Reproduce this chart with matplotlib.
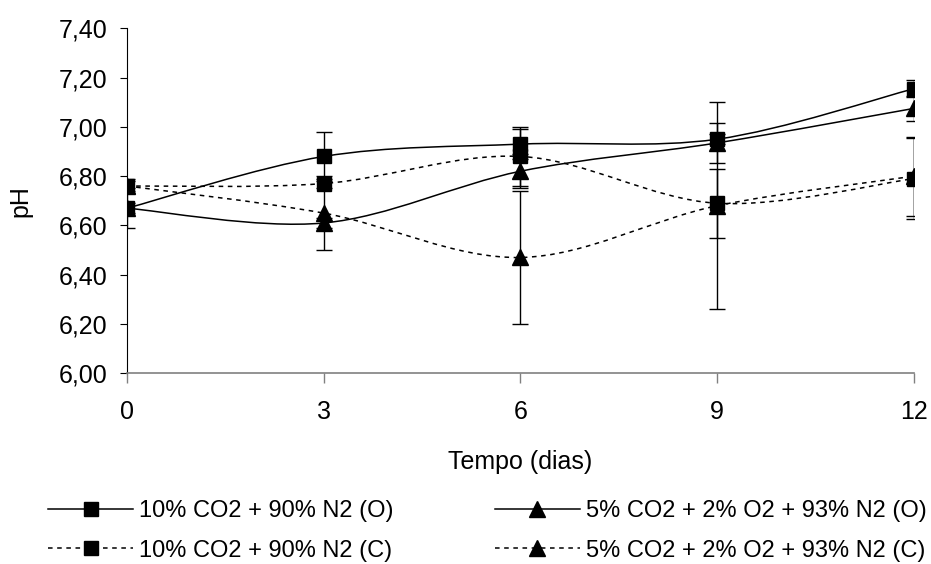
import numpy as np
import matplotlib
matplotlib.use("Agg")
import matplotlib.pyplot as plt
from matplotlib.path import Path
from matplotlib.patches import PathPatch
from matplotlib.lines import Line2D
from matplotlib.ticker import FuncFormatter

plt.rcParams["font.family"] = ["Liberation Sans", "DejaVu Sans"]

# data
dias = [0, 3, 6, 9, 12]

ph_a = [6.67, 6.88, 6.93, 6.95, 7.155]   # 10% CO2 + 90% N2 (O)
err_a = [0.08, 0.10, 0.06, 0.02, 0.035]

ph_b = [6.67, 6.61, 6.82, 6.935, 7.075]  # 5% CO2 + 2% O2 + 93% N2 (O)
err_b = [0.02, 0.02, 0.07, 0.08, 0.05]

ph_c = [6.76, 6.77, 6.88, 6.69, 6.79]    # 10% CO2 + 90% N2 (C)
err_c = [0.02, 0.02, 0.12, 0.14, 0.165]

ph_d = [6.76, 6.65, 6.47, 6.68, 6.80]    # 5% CO2 + 2% O2 + 93% N2 (C)
err_d = [0.03, 0.15, 0.27, 0.42, 0.16]

labels = ["10% CO2 + 90% N2 (O)", "5% CO2 + 2% O2 + 93% N2 (O)",
          "10% CO2 + 90% N2 (C)", "5% CO2 + 2% O2 + 93% N2 (C)"]

DOT = (0, (3, 3))


def smooth_path(x, y):
    # excel-like smoothed line: bezier segments through the points
    x = np.asarray(x, float)
    y = np.asarray(y, float)
    pts = np.column_stack([x, y])
    n = len(pts)
    verts = [pts[0]]
    codes = [Path.MOVETO]
    for i in range(n - 1):
        p0 = pts[i - 1] if i > 0 else pts[i]
        p1 = pts[i]
        p2 = pts[i + 1]
        p3 = pts[i + 2] if i + 2 < n else pts[i + 1]
        c1 = p1 + (p2 - p0) / 6.0
        c2 = p2 - (p3 - p1) / 6.0
        verts += [c1, c2, p2]
        codes += [Path.CURVE4] * 3
    return Path(verts, codes)


fig = plt.figure(figsize=(9.31, 5.64), dpi=100)
ax = fig.add_axes([127 / 931, 1 - 373.3 / 564, 787 / 931, 345 / 564])

series = [
    (ph_a, err_a, "-", "s", 10.5),
    (ph_b, err_b, "-", "^", 11.5),
    (ph_c, err_c, DOT, "s", 10.5),
    (ph_d, err_d, DOT, "^", 11.5),
]

for vals, errs, ls, mk, ms in series:
    patch = PathPatch(smooth_path(dias, vals), facecolor="none",
                      edgecolor="black", lw=1.1, linestyle=ls, zorder=2)
    ax.add_patch(patch)
    ax.errorbar(dias, vals, yerr=errs, fmt="none", ecolor="black",
                elinewidth=1.0, capsize=5.5, capthick=1.0, zorder=3)
    ax.plot(dias, vals, linestyle="none", marker=mk, ms=ms,
            color="black", zorder=4)

ax.set_xlim(0, 12)
ax.set_ylim(6.0, 7.4)
ax.set_xticks(dias)
ax.set_yticks(np.arange(6.0, 7.41, 0.2))
ax.yaxis.set_major_formatter(FuncFormatter(lambda v, p: f"{v:.2f}".replace(".", ",")))

for s in ["top", "right"]:
    ax.spines[s].set_visible(False)
ax.spines["left"].set_linewidth(0.8)
ax.spines["bottom"].set_color("#808080")
ax.spines["bottom"].set_linewidth(1.2)

ax.tick_params(axis="y", direction="out", length=5, width=0.8, pad=9,
               labelsize=18, colors="black")
ax.tick_params(axis="x", direction="out", length=7, width=1.0, pad=12,
               labelsize=18, color="#808080", labelcolor="black")

ax.set_xlabel("Tempo (dias)", fontsize=18, labelpad=19)
ax.set_ylabel("pH", fontsize=18, labelpad=19)

handles = []
for vals, errs, ls, mk, ms in series:
    handles.append(Line2D([], [], color="black", lw=1.1, linestyle=ls,
                          marker=mk, ms=ms))

# column order: (O)/(C) pairs
order = [0, 2, 1, 3]
fig.legend([handles[i] for i in order], [labels[i] for i in order],
           ncol=2, loc="upper left", bbox_to_anchor=(48 / 931, 1 - 500 / 564),
           frameon=False, fontsize=17, handlelength=3.6, handletextpad=0.25,
           columnspacing=4.3, labelspacing=0.75, borderpad=0, borderaxespad=0)

fig.savefig("out.png", dpi=100)
